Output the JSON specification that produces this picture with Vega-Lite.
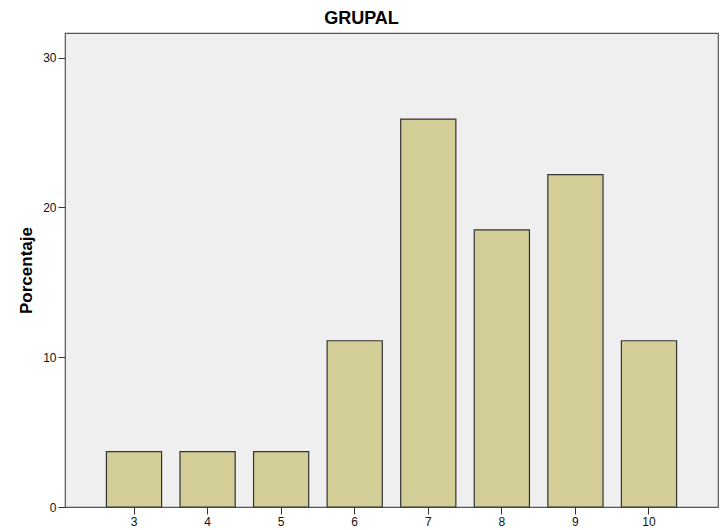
{
  "$schema": "https://vega.github.io/schema/vega-lite/v6.json",
  "autosize": "none",
  "padding": {"left": 65, "top": 33, "right": 4, "bottom": 23},
  "width": 653,
  "height": 474,
  "background": "white",
  "title": {"text": "GRUPAL", "font": "Liberation Sans", "fontSize": 18, "fontWeight": "bold", "color": "#000000", "anchor": "middle", "frame": "group", "offset": 5, "baseline": "bottom", "dy": 18, "dx": -30},
  "config": {
    "view": {"fill": "#EFEFEF", "stroke": "#555555", "strokeWidth": 1.2},
    "axis": {"grid": false, "labelFont": "Liberation Sans", "labelFontSize": 12, "labelColor": "#111111", "tickColor": "#333333", "domain": false, "titleFont": "Liberation Sans"}
  },
  "data": {"values": [
    {"nota": "3", "pct": 3.7},
    {"nota": "4", "pct": 3.7},
    {"nota": "5", "pct": 3.7},
    {"nota": "6", "pct": 11.1},
    {"nota": "7", "pct": 25.9},
    {"nota": "8", "pct": 18.5},
    {"nota": "9", "pct": 22.2},
    {"nota": "10", "pct": 11.1}
  ]},
  "mark": {"type": "bar", "fill": "#D3CE97", "stroke": "#333333", "strokeWidth": 1.2},
  "encoding": {
    "x": {"field": "nota", "type": "ordinal", "sort": null, "title": null,
      "scale": {"paddingInner": 0.25, "paddingOuter": 0.563},
      "axis": {"labelAngle": 0, "tickSize": 7, "labelPadding": 2}},
    "y": {"field": "pct", "type": "quantitative", "title": "Porcentaje",
      "scale": {"domain": [0, 31.65], "nice": false},
      "axis": {"values": [0, 10, 20, 30], "tickSize": 7, "labelPadding": 2, "titleFontSize": 17, "titleFontWeight": "bold", "titleColor": "#000000", "titlePadding": 7}}
  }
}
